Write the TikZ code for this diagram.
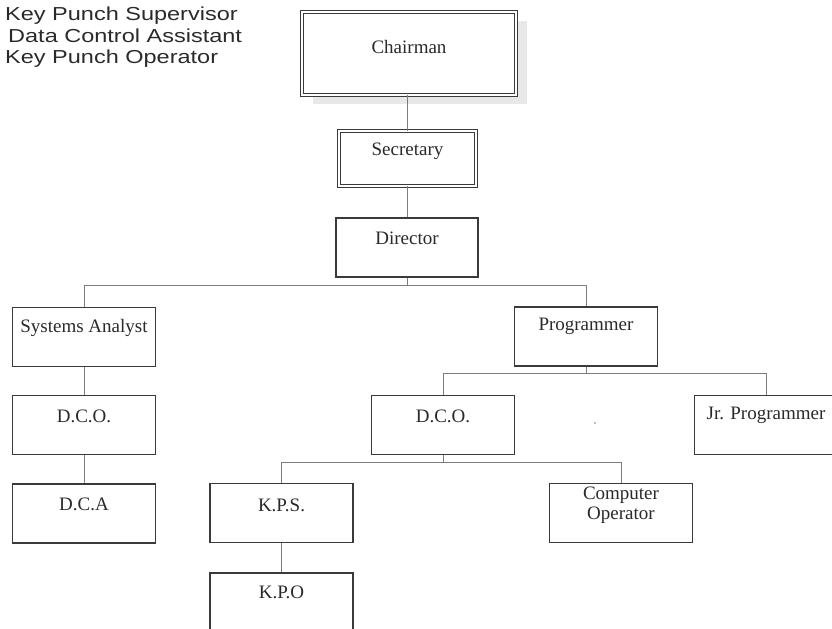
\documentclass[tikz,border=0pt]{standalone}
\usepackage{fontspec}
\setmainfont{Liberation Serif}
\newfontfamily\legendfont{Liberation Sans}
\usetikzlibrary{shadows}

\definecolor{boxline}{HTML}{3A3A3A}
\definecolor{linkline}{HTML}{7C7C7C}
\definecolor{inktext}{HTML}{2A2A2A}

\tikzset{
  unit/.style={draw=boxline, line width=1.1bp, fill=white, inner sep=0pt,
               minimum width=143bp, minimum height=59bp},
  dblunit/.style={draw=boxline, line width=0.9bp, double=white, double distance=2bp,
                  fill=white, inner sep=0pt},
  caption/.style={text=inktext, font=\fontsize{19bp}{21bp}\selectfont, inner sep=0pt,
                  align=center},
  link/.style={draw=linkline, line width=0.9bp},
  legendtext/.style={anchor=base west, inner sep=0pt, text=inktext,
                     font=\legendfont\fontsize{18.8bp}{21bp}\selectfont}
}

\begin{document}
\begin{tikzpicture}[x=1bp, y=-1bp]
  \useasboundingbox (0,0) rectangle (832,629);

  % legend of abbreviations
  \node[legendtext] (lg1) at (5,21) {\scalebox{1.25}[1]{Key Punch Supervisor}};
  \node[legendtext] (lg2) at (8,43) {\scalebox{1.25}[1]{Data Control Assistant}};
  \node[legendtext] (lg3) at (5,64) {\scalebox{1.25}[1]{Key Punch Operator}};

  % top of the hierarchy
  \node[dblunit, minimum width=214bp, minimum height=83bp,
        drop shadow={shadow xshift=11bp, shadow yshift=-9bp, fill=gray!18, opacity=1}]
        (chair) at (409,53.5) {};
  \node[dblunit, minimum width=137bp, minimum height=55bp] (sec) at (407.5,158.5) {};
  \node[unit, minimum width=142bp] (dir) at (407,247.5) {};

  % left branch
  \node[unit] (sa)   at (84,337) {};
  \node[unit] (dco1) at (84,425) {};
  \node[unit] (dca)  at (84,513.5) {};

  % right branch
  \node[unit] (prog) at (586,336.5) {};
  \node[unit] (dco2) at (443,425) {};
  \node[unit] (jr)   at (766,425) {};
  \node[unit] (kps)  at (281.5,513) {};
  \node[unit] (comp) at (621,513) {};
  \node[unit] (kpo)  at (281.5,602.5) {};

  % captions
  \node[caption] (tchair) at ([yshift=-35bp]chair.north) {Chairman};
  \node[caption] (tsec)   at ([yshift=-21bp]sec.north)   {Secretary};
  \node[caption] (tdir)   at ([yshift=-21bp]dir.north)   {Director};
  \node[caption] (tsa)    at ([yshift=-21bp]sa.north)    {Systems Analyst};
  \node[caption] (tdco1)  at ([yshift=-21bp]dco1.north)  {D.C.O.};
  \node[caption] (tdca)   at ([yshift=-21bp]dca.north)   {D.C.A};
  \node[caption] (tprog)  at ([yshift=-20bp]prog.north)  {Programmer};
  \node[caption] (tdco2)  at ([yshift=-21bp]dco2.north)  {D.C.O.};
  \node[caption] (tjr)    at ([yshift=-20bp]jr.north)    {Jr. Programmer};
  \node[caption] (tkps)   at ([yshift=-22bp]kps.north)   {K.P.S.};
  \node[caption] (tcomp)  at ([yshift=-22bp]comp.north)  {Computer\\[-1bp]Operator};
  \node[caption] (tkpo)   at ([yshift=-20bp]kpo.north)   {K.P.O};

  % reporting lines
  \draw[link] (sec.north) -- (sec.north |- chair.south);
  \draw[link] (dir.north) -- (dir.north |- sec.south);

  \draw[link] (dir.south) -- ++(0,8) coordinate (fdir);
  \draw[link] (fdir) -| (sa.north);
  \draw[link] (fdir) -| (prog.north);

  \draw[link] (sa.south) -- (dco1.north);
  \draw[link] (dco1.south) -- (dca.north);

  \draw[link] (prog.south) -- ++(0,7) coordinate (fprog);
  \draw[link] (fprog) -| (dco2.north);
  \draw[link] (fprog) -| (jr.north);

  \draw[link] (dco2.south) -- ++(0,7) coordinate (fdco);
  \draw[link] (fdco) -| (kps.north);
  \draw[link] (fdco) -| (comp.north);

  \draw[link] (kps.south) -- (kpo.north);

  % small speck
  \fill[linkline] (595,423) circle (0.9bp);
\end{tikzpicture}
\end{document}
